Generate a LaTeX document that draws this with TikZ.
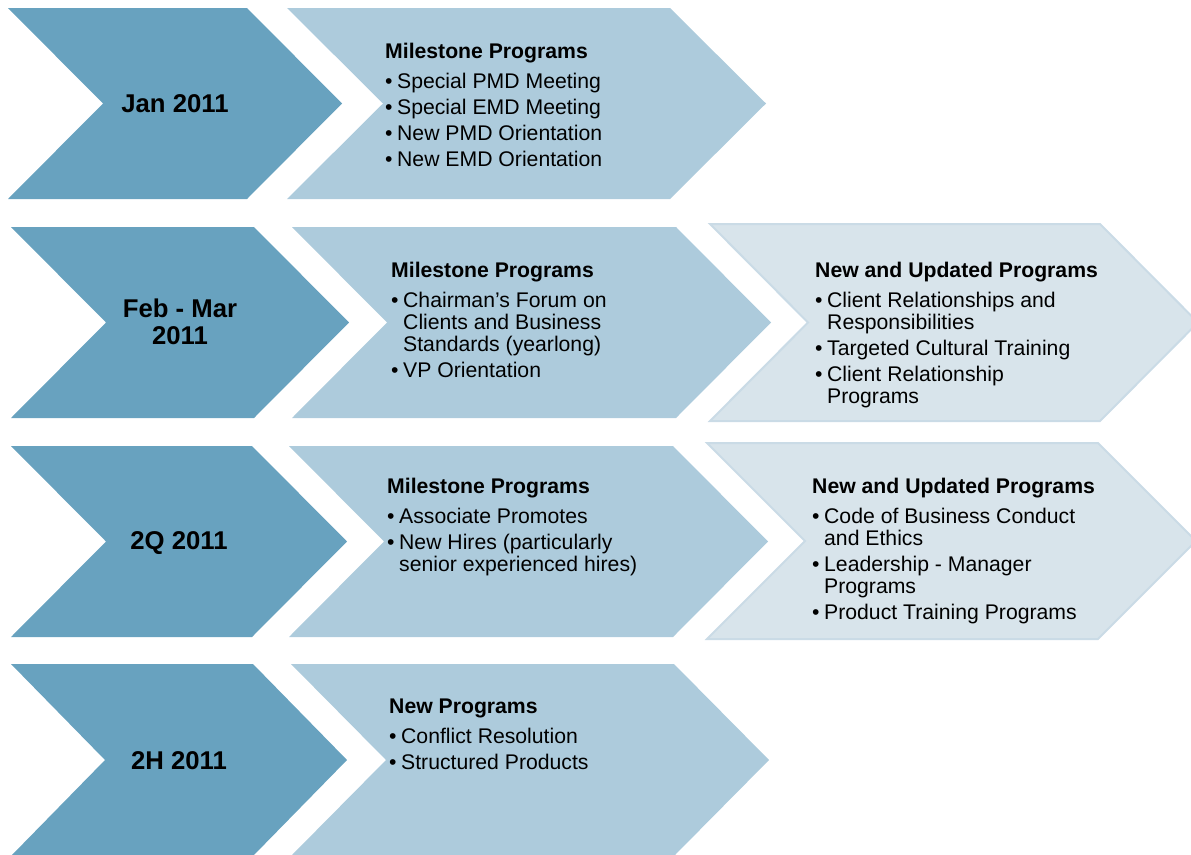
\documentclass[tikz,border=0pt]{standalone}
\usepackage{fontspec}
\setmainfont{Liberation Sans}
\definecolor{dk}{HTML}{68A2BF}
\definecolor{lt}{HTML}{ADCBDC}
\definecolor{xl}{HTML}{D8E4EB}
\definecolor{xlb}{HTML}{CADBE6}
\newcommand\chev[6]{\path[#1] (#2,#3) -- (#4,#3) -- (#5,{(#3+#6)/2}) -- (#4,#6) -- (#2,#6) -- ({#2+#5-#4},{(#3+#6)/2}) -- cycle;}
\newcommand\bi[1]{\hangindent=12pt\hangafter=1\noindent\makebox[12pt][l]{\textbullet}#1\par}
\newcommand\blk[2]{\parbox[t]{340pt}{\raggedright\fontsize{21.2}{22}\selectfont\setlength\baselineskip{22pt}\setlength\parskip{4pt}\textbf{#1}\par\vspace{4pt}#2}}
\tikzset{
  darkchev/.style={fill=dk},
  lightchev/.style={fill=lt},
  palechev/.style={fill=xl,draw=xlb,line width=2pt,line join=miter},
  datelbl/.style={font=\fontsize{25.7}{27}\selectfont\bfseries,align=center,inner sep=0pt},
  txtblk/.style={anchor=base west,inner sep=0pt}
}
\begin{document}
\begin{tikzpicture}[x=1pt,y=-1pt]
\useasboundingbox (0,0) rectangle (1191,854);
% row 1
\chev{darkchev}{8}{8}{247}{342}{199}
\chev{lightchev}{287}{8}{670}{766}{199}
% row 2
\chev{darkchev}{11}{227}{254}{349}{418}
\chev{lightchev}{292}{227}{676}{771}{418}
\chev{palechev}{710}{224}{1100}{1198}{421}
% row 3
\chev{darkchev}{11}{446}{252}{347}{637}
\chev{lightchev}{289}{446}{673}{768}{637}
\chev{palechev}{707}{443}{1098}{1196}{639}
% row 4
\chev{darkchev}{11}{664}{253}{347}{856}
\chev{lightchev}{291}{664}{674}{769}{856}

% date labels
\node[datelbl,anchor=base] (d1) at (175,112) {Jan 2011};
\node[datelbl,anchor=center] (d2) at (180,322) {Feb - Mar\\2011};
\node[datelbl,anchor=base] (d3) at (179,549) {2Q 2011};
\node[datelbl,anchor=base] (d4) at (179,769) {2H 2011};

% text blocks
\node[txtblk] (m1) at (385,58) {\blk{Milestone Programs}{%
\bi{Special PMD Meeting}\bi{Special EMD Meeting}\bi{New PMD Orientation}\bi{New EMD Orientation}}};
\node[txtblk] (m2) at (391,277) {\blk{Milestone Programs}{%
\bi{Chairman's Forum on\newline Clients and Business\newline Standards (yearlong)}\bi{VP Orientation}}};
\node[txtblk] (n2) at (815,277) {\blk{New and Updated Programs}{%
\bi{Client Relationships and\newline Responsibilities}\bi{Targeted Cultural Training}\bi{Client Relationship\newline Programs}}};
\node[txtblk] (m3) at (387,493) {\blk{Milestone Programs}{%
\bi{Associate Promotes}\bi{New Hires (particularly\newline senior experienced hires)}}};
\node[txtblk] (n3) at (812,493) {\blk{New and Updated Programs}{%
\bi{Code of Business Conduct\newline and Ethics}\bi{Leadership - Manager\newline Programs}\bi{Product Training Programs}}};
\node[txtblk] (m4) at (389,713) {\blk{New Programs}{%
\bi{Conflict Resolution}\bi{Structured Products}}};
\end{tikzpicture}
\end{document}
